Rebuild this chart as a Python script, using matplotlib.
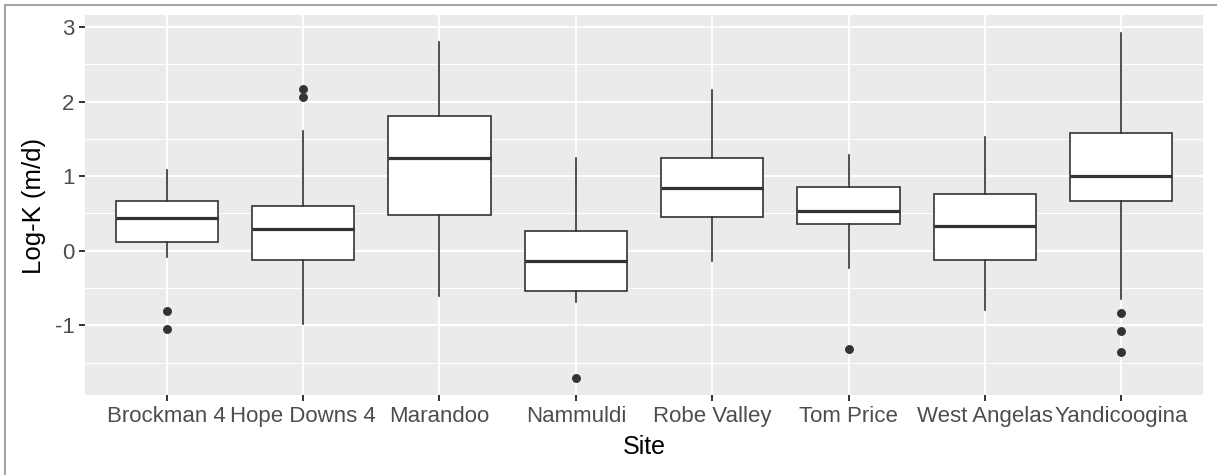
import matplotlib
matplotlib.use("Agg")
import matplotlib.pyplot as plt
from matplotlib.lines import Line2D

sites = ["Brockman 4", "Hope Downs 4", "Marandoo", "Nammuldi",
         "Robe Valley", "Tom Price", "West Angelas", "Yandicoogina"]
whisker_low = [-0.085, -0.975, -0.61, -0.69, -0.134, -0.233, -0.79, -0.644]
q1 = [0.117, -0.12, 0.48, -0.54, 0.45, 0.358, -0.125, 0.671]
median = [0.44, 0.295, 1.24, -0.14, 0.846, 0.537, 0.336, 0.997]
q3 = [0.667, 0.595, 1.80, 0.26, 1.244, 0.86, 0.765, 1.584]
whisker_high = [1.08, 1.61, 2.80, 1.25, 2.15, 1.28, 1.52, 2.92]
outliers = [[-0.805, -1.05], [2.17, 2.06], [], [-1.70],
            [], [-1.31], [], [-0.83, -1.08, -1.36]]

y_ticks = [-1, 0, 1, 2, 3]
y_minor = [-1.5, -0.5, 0.5, 1.5, 2.5]

plt.rcParams["font.family"] = ["Liberation Sans", "DejaVu Sans"]

W, H = 1217, 475
fig = plt.figure(figsize=(W / 100, H / 100), dpi=100)
ax = fig.add_axes([85 / W, 1 - 395 / H, 1118 / W, 380 / H])
ax.set_facecolor("#EBEBEB")

stats = []
for i, s in enumerate(sites):
    stats.append(dict(label=s, whislo=whisker_low[i], q1=q1[i], med=median[i],
                      q3=q3[i], whishi=whisker_high[i], fliers=outliers[i]))

positions = list(range(1, len(sites) + 1))
ax.bxp(stats, positions=positions, widths=0.75, patch_artist=True,
       showcaps=False,
       boxprops=dict(facecolor="white", edgecolor="#333333", linewidth=1.2),
       whiskerprops=dict(color="#333333", linewidth=1.2),
       medianprops=dict(color="#333333", linewidth=2.3),
       flierprops=dict(marker="o", markerfacecolor="#333333",
                       markeredgecolor="#333333", markersize=5.4),
       zorder=3)

ax.set_xlim(0.4, 8.6)
ax.set_ylim(-1.933, 3.16)

# ggplot-like grid
for y in y_minor:
    ax.axhline(y, color="white", linewidth=0.75, zorder=1)
for y in y_ticks:
    ax.axhline(y, color="white", linewidth=1.4, zorder=1)
for x in positions:
    ax.axvline(x, color="white", linewidth=1.4, zorder=1)

ax.set_xticks(positions)
ax.set_xticklabels(sites)
ax.set_yticks(y_ticks)
ax.set_yticklabels([str(v) for v in y_ticks])
ax.tick_params(axis="both", length=4.3, width=1.4, color="#333333",
               labelcolor="#4D4D4D", labelsize=16, pad=3.3)
for sp in ax.spines.values():
    sp.set_visible(False)

# axis titles
fig.text(644 / W, 1 - 447 / H, "Site", fontsize=18, color="black",
         ha="center", va="center")
fig.text(34 / W, 1 - 206 / H, "Log-K (m/d)", fontsize=18.5, color="black",
         ha="center", va="center", rotation=90)

# frame lines along the top and left edges of the image
fig.add_artist(Line2D([5 / W, 5 / W], [0, 1 - 5 / H],
                      transform=fig.transFigure, color="#A0A0A0", linewidth=1.4))
fig.add_artist(Line2D([5 / W, 1], [1 - 5 / H, 1 - 5 / H],
                      transform=fig.transFigure, color="#A0A0A0", linewidth=1.4))

fig.savefig("out.png", dpi=100, facecolor="white")
